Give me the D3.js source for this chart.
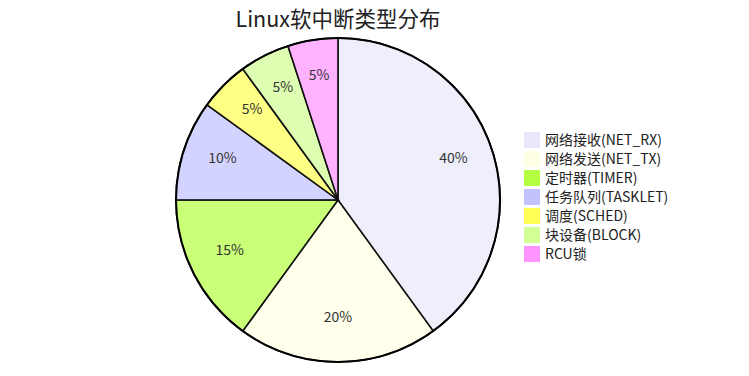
<!DOCTYPE html>
<html>
<head>
<meta charset="utf-8">
<script src="https://cdn.jsdelivr.net/npm/d3@7"></script>
<style>
  body { margin: 0; background: #fff; }
  svg text { font-family: "Noto Sans CJK SC", "Noto Sans", sans-serif; }
</style>
</head>
<body>
<div id="chart"></div>
<script>
const categories = ["网络接收(NET_RX)", "网络发送(NET_TX)", "定时器(TIMER)", "任务队列(TASKLET)", "调度(SCHED)", "块设备(BLOCK)", "RCU锁"];
const values = [40, 20, 15, 10, 5, 5, 5];
const colors = ["#E6E6FA", "#FFFFE0", "#ADFF2F", "#BBBBFF", "#FFFF44", "#CCFF88", "#FF88FF"];

const width = 749, height = 376;
const cx = 338, cy = 200, radius = 162;

const data = categories.map((c, i) => ({ category: c, value: values[i] }));

const svg = d3.select('#chart')
    .append('svg')
    .attr('width', width)
    .attr('height', height);

svg.append('text')
    .attr('x', cx)
    .attr('y', 27)
    .attr('text-anchor', 'middle')
    .style('font-size', '21.5px')
    .style('fill', '#222')
    .text('Linux软中断类型分布');

const color = d3.scaleOrdinal().domain(categories).range(colors);

const pie = d3.pie().sort(null).value(d => d.value);
const arc = d3.arc().innerRadius(0).outerRadius(radius);
const labelArc = d3.arc().innerRadius(radius * 0.75).outerRadius(radius * 0.75);

const g = svg.append('g').attr('transform', `translate(${cx},${cy})`);
const arcs = pie(data);
const total = d3.sum(values);

g.selectAll('path.slice')
    .data(arcs)
    .join('path')
        .attr('class', 'slice')
        .attr('d', arc)
        .style('fill', d => color(d.data.category))
        .style('fill-opacity', 0.65)
        .style('stroke', '#111')
        .style('stroke-width', 1.5);

// outer rim
g.append('circle')
    .attr('r', radius)
    .style('fill', 'none')
    .style('stroke', '#000')
    .style('stroke-width', 2);

g.selectAll('text.pct')
    .data(arcs)
    .join('text')
        .attr('class', 'pct')
        .attr('transform', d => `translate(${labelArc.centroid(d)})`)
        .attr('text-anchor', 'middle')
        .attr('dy', '0.02em')
        .style('font-size', '14px')
        .style('fill', '#333')
        .text(d => Math.round(d.data.value / total * 100) + '%');

// legend
const legend = svg.append('g').attr('transform', 'translate(524,132)');
const rows = legend.selectAll('g')
    .data(categories)
    .join('g')
        .attr('transform', (d, i) => `translate(0,${i * 19})`);

rows.append('rect')
    .attr('width', 16)
    .attr('height', 16)
    .style('fill', d => color(d))
    .style('fill-opacity', 0.9);

rows.append('text')
    .attr('x', 21)
    .attr('y', 8)
    .attr('dy', '0.35em')
    .style('font-size', '14px')
    .style('fill', '#222')
    .text(d => d);
</script>
</body>
</html>
